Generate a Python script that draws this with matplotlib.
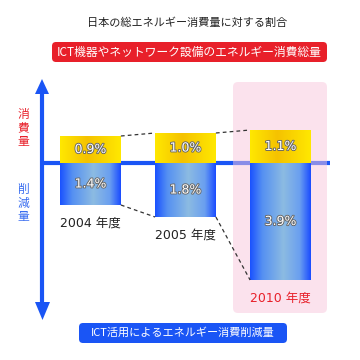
import numpy as np
import matplotlib
matplotlib.use("Agg")
import matplotlib.pyplot as plt
import matplotlib.transforms as mtransforms
import matplotlib.patheffects as pe
from matplotlib.patches import FancyBboxPatch, Polygon
from matplotlib.colors import LinearSegmentedColormap

plt.rcParams['font.family'] = ['Noto Sans CJK JP', 'DejaVu Sans']
NUM_FONT = ['DejaVu Sans', 'Noto Sans CJK JP']

# ----------------------------------------------------------------------
# Data
# ----------------------------------------------------------------------
years = ["2004 年度", "2005 年度", "2010 年度"]
consumption = [0.9, 1.0, 1.1]   # ICT機器やネットワーク設備の消費量 (%)
reduction = [1.4, 1.8, 3.9]     # ICT活用による削減量 (%)

title = "日本の総エネルギー消費量に対する割合"
top_label = "ICT機器やネットワーク設備のエネルギー消費総量"
bottom_label = "ICT活用によるエネルギー消費削減量"
up_label = "消費量"
down_label = "削減量"

BLUE = "#1a55f5"
RED = "#e8202a"

# ----------------------------------------------------------------------
# Figure: one axes covering everything
# ----------------------------------------------------------------------
fig = plt.figure(figsize=(3.6, 3.6), dpi=100)
ax = fig.add_axes([0, 0, 1, 1])
ax.set_axis_off()

# pixel transform (origin top-left) for decorations
px = mtransforms.Affine2D().scale(1 / 360, -1 / 360).translate(0, 1) + fig.transFigure

x = np.arange(len(years))
w = 0.64

# baseline (drawn under the pink panel)
ax.plot([42, 330], [163, 163], color=BLUE, lw=3, transform=px, zorder=1,
        solid_capstyle="butt")

# highlight panel for 2010
panel = FancyBboxPatch((233, 82), 94, 231, boxstyle="round,pad=0,rounding_size=5",
                       transform=px, fc="#f8c6dc", ec="none", alpha=0.5, zorder=2)
ax.add_patch(panel)

# bars with gradients
yel_cmap = LinearSegmentedColormap.from_list(
    "y", [(0, "#ffe800"), (0.45, "#f5c200"), (1, "#ffe800")])
blu_cmap = LinearSegmentedColormap.from_list(
    "b", [(0, "#1a52ff"), (0.2, "#5590f2"), (0.55, "#8cbbe2"),
          (0.82, "#6a9ff0"), (1, "#1a4cff")])
grad = np.linspace(0, 1, 128).reshape(1, -1)

top_bars = ax.bar(x, consumption, width=w, color="#ffe600", zorder=3)
bot_bars = ax.bar(x, [-r for r in reduction], width=w, color=BLUE, zorder=3)
for bars, cmap in [(top_bars, yel_cmap), (bot_bars, blu_cmap)]:
    for b in bars:
        x0, y0 = b.get_x(), b.get_y()
        im = ax.imshow(grad, cmap=cmap, aspect="auto", zorder=3.5,
                       extent=[x0, x0 + b.get_width(), y0, y0 + b.get_height()])
        im.set_clip_path(b)

# value labels
outline = [pe.withStroke(linewidth=1.3, foreground="#666666")]
for i in range(len(years)):
    ax.text(x[i], consumption[i] / 2, f"{consumption[i]}%", ha="center", va="center",
            fontsize=9, color="white", path_effects=outline, zorder=5,
            family=NUM_FONT)
    ax.text(x[i], -reduction[i] / 2, f"{reduction[i]}%", ha="center", va="center",
            fontsize=9, color="white", path_effects=outline, zorder=5,
            family=NUM_FONT)

# dashed connectors between bar corners
for i in range(len(years) - 1):
    ax.plot([x[i] + w / 2, x[i + 1] - w / 2], [consumption[i], consumption[i + 1]],
            color="#333333", lw=0.9, ls=(0, (3, 2.5)), zorder=4)
    ax.plot([x[i] + w / 2, x[i + 1] - w / 2], [-reduction[i], -reduction[i + 1]],
            color="#333333", lw=0.9, ls=(0, (3, 2.5)), zorder=4)

# year labels under bars
for i in range(len(years)):
    ax.annotate(years[i], (x[i], -reduction[i]), xytext=(0, -8),
                textcoords="offset points", ha="center", va="top", fontsize=9,
                color=RED if i == len(years) - 1 else "#222222", zorder=5,
                family=NUM_FONT)

# vertical double arrow
ax.plot([42, 42], [92, 304], color=BLUE, lw=3, transform=px, zorder=2,
        solid_capstyle="butt")
ax.add_patch(Polygon([[35, 94], [49, 94], [42, 79]], closed=True, fc=BLUE, ec="none",
                     transform=px, zorder=2))
ax.add_patch(Polygon([[35, 302], [50, 302], [42.5, 320]], closed=True, fc=BLUE,
                     ec="none", transform=px, zorder=2))

ax.text(23, 128, "\n".join(up_label), transform=px, ha="center", va="center",
        fontsize=8.5, color=RED, linespacing=1.05)
ax.text(23, 203, "\n".join(down_label), transform=px, ha="center", va="center",
        fontsize=8.5, color="#3a6ef0", linespacing=1.05)

# title and label boxes
ax.text(187, 23, title, transform=px, ha="center", va="center", fontsize=8,
        color="#222222")
ax.add_patch(FancyBboxPatch((52, 42), 275, 20, boxstyle="round,pad=0,rounding_size=4",
                            transform=px, fc=RED, ec="none", zorder=2))
ax.text(189.5, 52, top_label, transform=px, ha="center", va="center", fontsize=8.5,
        color="white", zorder=3)
ax.add_patch(FancyBboxPatch((79, 323), 208, 20, boxstyle="round,pad=0,rounding_size=4",
                            transform=px, fc=BLUE, ec="none", zorder=2))
ax.text(183, 333, bottom_label, transform=px, ha="center", va="center", fontsize=8,
        color="white", zorder=3)

ax.set_xlim(-90.5 / 95, (360 - 90.5) / 95)
ax.set_ylim(-197 / 30, 163 / 30)

fig.savefig("out.png", dpi=100)
